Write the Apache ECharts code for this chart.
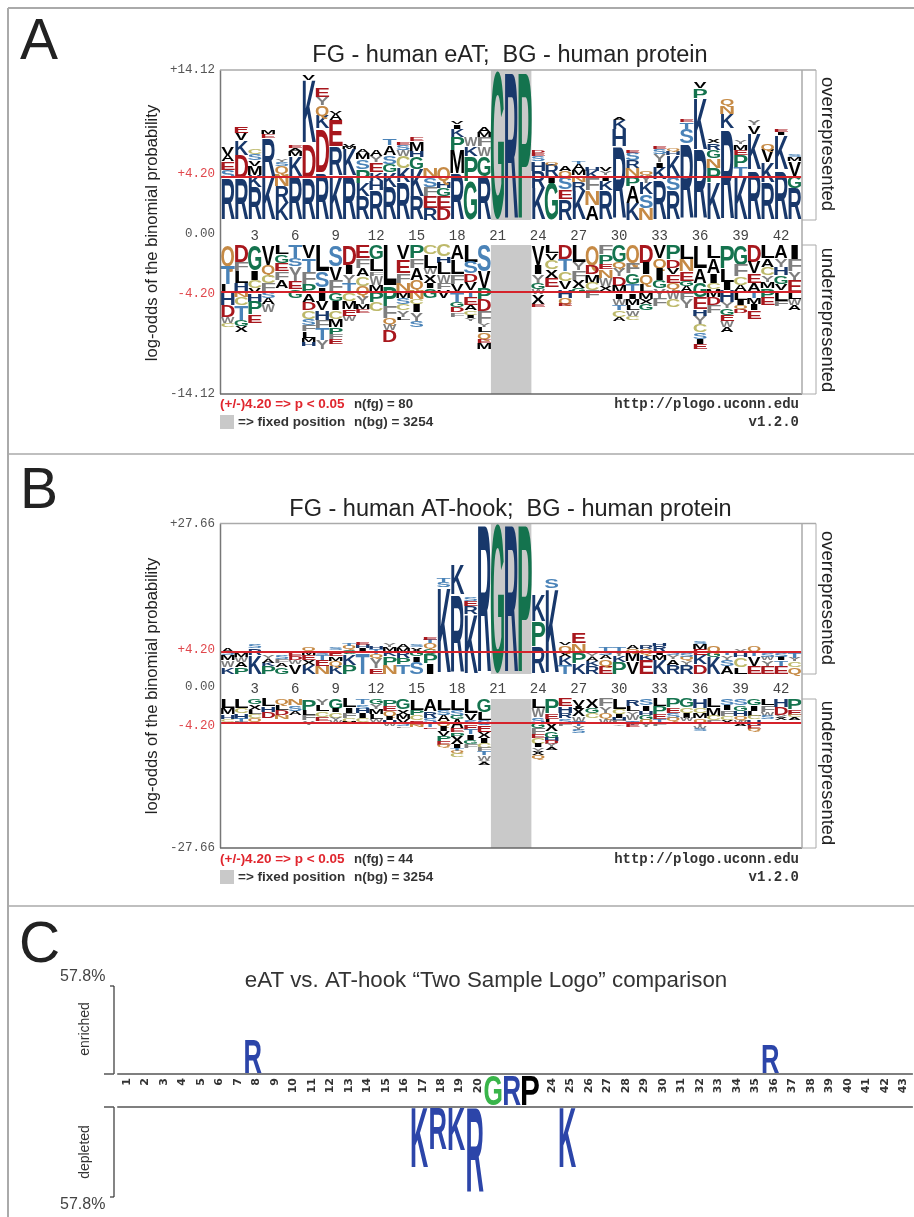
<!DOCTYPE html>
<html><head><meta charset="utf-8">
<style>html,body{margin:0;padding:0;background:#fff}#c{width:914px;height:1217px;filter:blur(0.45px)}</style>
<script src="https://cdn.jsdelivr.net/npm/echarts@6/dist/echarts.min.js"></script>
</head><body><div id="c"></div>
<script>
// ---- data: letters stacked outward from the axis, with height in log-odds (A, B) or % (C)
const aOver = ["R3.9 S.8 E.8 A.6 V.7","R3.9 D2.2 K1.4 V.7 E.6","R3.1 K1.1 M.9 V.5 S.6 C.5","K4.1 R3.6 E.4 M.4","K1.6 R1.6 N1.1 Q.8 S.4 Y.3","R4.1 K1.9 M.5 A.3 E.3","R3.9 D3.3 K6 V.5","R4.4 D4.2 K1.2 Q1 Y.8 E.9","K4.2 R2.7 E2.5 A.6 V.3","R4.2 K2.5 M.2 V.3","R2.2 K1.3 P1.3 S.9 M.6 A.4","R2.8 H.9 K.8 E.9 Y.6 A.6","R3.1 K1.4 G.8 S.8 A.9 T.6","R3.5 K1.4 C1.1 W.6 S.5 E.2","R2.2 K2.6 G1.1 H.6 M.9 E.4","R1.1 E1.1 F.9 S.9 N.9","D1.1 E1.1 G.8 H.6 Q1.4","R4.4 M2.2 P1.2 K.8 I.4 V.3","G3.6 P2.4 K.9 W.9","R4.1 G1.9 W.9 F.9 M.5 A.5","G14.12","R14.12","P14.12","K3 R1.6 H.9 S.5 E.3 D.2","G3.5 I.6 R1.1 Q.2","R2 E.9 S1.1 Q.6 A.5","K2.7 R.9 N.6 M.5 A.6 T.2","A1.4 N1.4 F1.1 K.7 H.4","R2.8 K.9 I.5 Y.4 V.4","R6.9 H1.6 K.9 A.2","K1.6 A1.6 P.9 N.8 R.7 S.7 E.3","N1.1 S1.3 K1.1 Y.7 Q.4","R3.8 K1.1 I.5 Y.8 S.5 E.2","R2.8 S1.3 K2 H.4 Q.2","R7.2 S1.4 T.6 E.2","R6.6 K4.9 P.9 V.6","K3.5 P1.4 N.9 G.8 R.6 X.4","R8.6 K1.4 N.8 Q.6","K4.1 T.9 P1.1 E.5 M.5 Y.4","R4.7 K3.4 V.8 Y.5","R3.5 K1.9 V1.2 Q.6","R4.7 K3.3 I.3 E.3","R3 G1.1 V1.4 M.4 S.2"];
const aUnder = ["Q2 T1.7 L.9 H1.1 D1.1 W.6 C.4","D1.6 F.9 L1.1 H.8 N.5 C.8 T1.4 G.6 X.6","G2.4 I.9 C.8 V.5 H.8 P1.2 E.8","V1.9 Q.9 C.8 F.8 S.6 A.6 W.8","L.9 G.8 E.8 F.8 A.8","T1.3 S.7 Y1.4 E.8 G.8","V1.3 T1.3 F1.1 P.9 A.8 D.8 C.8 S.6 F.6 L.6 M.4 H.4","L2.5 S1.5 I1.3 V.9 H.9 F.8 T1.1 Y.9","S2 V1.4 F1.1 G.8 I.9 C.8 M.8 P.6 F.5 E.5","D1.9 I.9 Y.8 T.9 C.8 M.8 E.6 W.5","E1.3 F.9 A.8 C.9 Q.9 Y.8 M.5 E.4","G1.4 L1.1 F.4 W.9 M.6 P1 C.9","L3.9 P1.9 F1.1 Q.6 W.6 D1.1","V1.4 E1.3 F.9 N.8 M.6 S.6 C.6 Y.6 L.3","P1.3 F.9 A1.1 Q.9 N.9 C.5 I.8 Y.8 S.6","C.9 L1.3 W.6 X.8 I.5 G.9","C1.1 H.6 L1.1 W.8 F.6 V.8","A1.4 L1.4 F.9 V.8 T.9 G.5 D.5 F.4","L1.6 S1.1 D.8 V.8 T.6 E.8 A.5 C.4 I.3 Y.3","S2.5 V1.6 P1.1 D1.1 F1.1 Y.4 L.5 Q.6 E.4 M.6","","","","V1.9 I.9 Y.8 G.6 W.5 X.9 E.3","L.8 V.6 C.9 X.8 E.9","D1.4 T1.1 C.9 V.8 H.8 Q.6 E.2","L1.6 Y.8 F.9 X.8 G.5","Q1.9 D.9 M.8 C.7 F.7","F.9 P.9 E.5 N.8 W.8 X.5","G1.6 Q.6 Y.8 D.9 M.7 I.5 W.6 T.5 C.6 A.4","Q1.7 F1 G1 T.9 I.5 M.6 L.5 W.5 C.4","D1.7 I1.1 Q.9 L.8 M.6 X.5 G.6","V1.3 Q.9 I1.1 G.8 Y.9 F.8","P1.4 D.8 V.6 E.8 Q.6 W.9 C.8","L1.4 N1.1 E.9 G.5 A.6 F.6 Y.9","L2.2 A1.4 G1.4 E1.1 H.6 Y.8 C.8 S.6 I.5 E.5","L1.3 A1.4 I.9 C.6 M.7 D.8 F.8","P2.2 L1.3 I.8 H1.1 Y.6 G.6 E.6 W.6 A.5","G1.9 F1.1 C.8 A.6 L.8 I.5 Q.4 D.4","D1.6 V1.1 E.9 A.8 T.6 M.6 I.6 E.8","L1.3 A.8 C.8 Y.6 M.6 P.9 E.7","A1.3 Y.8 H.8 G.8 V.6 L1 F.5","I1.4 F1.1 Y.9 E1.1 L.6 W.6 A.5"];
const bOver = ["K1.3 W1.3 M.9 S.6 A.7","P1.3 A.9 W1 M.6","K3.4 R1.3 S.6","P1.4 K.7 A.6 Y.6","G1.2 A.8 F.8 S.7","V1.8 W.8 D.7 E.6 Q.3","K1.7 X.9 E.9 M.7 Q.6","N1.4 E1.1 T.9 S.5 Q.3","K1.5 Q.9 M.8 E.9 I.3 S.5","P1.7 K2 G.8 Q.6 T.5","T4 I.8 H.6 E.4","E1 Y2 Q.7 T.9 H.4","N1.7 P1.5 K1 M.7 Y.6","T1.8 P1.1 R1.1 M.8 A.6","S2.2 I1 G.9 X.8 S.5","I2 P1.7 G1 Q.9 T.6 E.4","K16 S.9 T.6","R14.5 K5.5","K11 R1.5 E.9 S.6","R27.66","G27.66","R27.66","P27.66","R5 P4.6 K4.9","K15.8 S1.8","T1.6 K1.5 X.9 Q1.3 V.4","K1.9 P1.9 N1.8 E1.9","R1.4 K1 A.8 Y.7","E1.5 Q1.3 A.7 S.7 T.6","P2.1 K1.2 Y1 T.6","V2.3 M1.6 Q.6 A.7","E2.6 K1 Q.9 R.6 Y.3","K2.6 M.9 I.6 R1.1 H.5","R1.7 A1 Y.7 S.6","R1.7 Y.8 Q.7 S.6","D1.8 K1.6 E1.1 M1 S.5","K3.1 G1 Q1.1","A1.5 S1.1 Y.8 T.7","L1.3 C1.8 H.7 Y.7","E1.5 V1.7 T1 Q1","E1.5 Y1 W.7 S.7","E1.5 T1 I.7 S.7","Q1.3 C1 Y.7 T.9"];
const bUnder = ["L1.7 M1.2 H.8 C.5 W.3","L1.7 C1 H1 T.6 F.4","G1 X1 L.8 C.8 Q.6","L1.4 H1 D1.2","Q1 L1 D1 N.7","N1.2 S1 A.8","P2 L1 F1 Y.8","Y1.2 L1.1 C1 E.8","G1.9 I.6 C1 Y.6 W.4","L1.6 I1 F.9 C.7 M.5","T1 S.8 H.9 I.9 C.7","G.9 Y1 M.9 L1 W.5","P1.3 E.9 Q.9 I.8 H.7 W.4","G1.9 X1 M.9 V.7 S.6 F.3","L2 P1 C1 E.8 N.5","A2.3 R1.2 S.9 T.9 E.3","L2 S1 A1.1 Q.9 I.9 V1 P.9 E.7 Q.5","L2 S1.2 G.6 A1.6 E.8 P.8 X1.4 I.7 T.5 Q.5 C.6","L2.6 V1.3 S.8 E1 T.9 I1 G.8 F.7","G2.4 L1.5 S1 E1.2 X1.2 I.9 C.9 F.6 T.8 W.8 Y.5 A.4","","","","L1.8 W1.6 S1 G1 F1.2 E.7 C1.1 I.6 Y.8 X.6 Q.7","P2.7 E1 L.8 X1.5 G1.2 H.6 D.6 Y.6 A.4","E1.4 H1.2 R1 S.8 F.7","V1.3 I.5 X1.4 W1 T.9 Y.6 S.6","X1.7 G1 C.9","F1.4 Y1.2 Q1 W1","L1.9 C.9 I.7 H.6 F.6 Y.3","R1.3 L1 Y.8 W.9 T.8 E.4","S1.2 I1 H.8 G.9 Q.6 Y.8","L1.4 P1.4 E.9 T.8 F.6","P1.6 E1 S.9 Q.6","G1.6 C1 I.9 W.6","H1.7 C.9 M1 Q.8 Y.6 W.5 S.5","L1.6 M1.5 C.9 F.6","S1.2 I.9 F1 C.8 X.8","S1.2 G1 H1 Q.8 W.6 A.5","G1.2 I1 L1 C.6 H1 E.8 Q.4","L1.2 F1.2 W.7 S.7","H1.5 D1.5 Y.5 X.5","P1.9 E1 C.5 A.5"];
const cEnriched = [[8,"R",23],[36,"R",19.5]];
const cDepleted = [[17,"K",39.4],[18,"R",27.6],[19,"K",28],[20,"R",55.8],[25,"K",39.4]];
const cFixed = [[21,"G",1],[22,"R",1],[23,"P",1]];
const fixedPositions = [20.5,23.5];
const logoTicks = [3,6,9,12,15,18,21,24,27,30,33,36,39,42];
const cTicks = [1,2,3,4,5,6,7,8,9,10,11,12,13,14,15,16,17,18,19,20,24,25,26,27,28,29,30,31,32,33,34,35,36,37,38,39,40,41,42,43];
const aRange = 14.12, bRange = 27.66, cRange = 57.8;
// threshold rules as they sit in the picture
const aLineUp = 4.05, aLineDown = -4.43, bLineUp = 4.04, bLineDown = -4.4;

// ---- colours and letter shapes
const navy='#18386b', red='#a8171d', green='#14734e', steel='#4a83b8', tan='#c68a45', khaki='#bdb96a', black='#000', grey='#7f7f7f';
const colour={R:navy,K:navy,H:navy,D:red,E:red,G:green,P:green,S:steel,T:steel,N:tan,Q:tan,C:khaki,A:black,V:black,L:black,I:black,M:black,X:black,F:grey,W:grey,Y:grey};
const ink={A:71,B:62,C:65,D:63,E:56,F:51,G:68,H:58,I:30,K:66,L:54,M:69,N:58,P:57,Q:72,R:65,S:60,T:57,V:69,W:93,X:67,Y:67};
const alphabet='ACDEFGHIKLMNPQRSTVWXY';
const FONT='"Liberation Sans",Arial,sans-serif';

function rows(list,dir){
  const out=[];
  list.forEach((s,i)=>{
    let base=0;
    s.split(' ').filter(Boolean).forEach(t=>{
      const h=parseFloat(t.slice(1));
      out.push([i+1,base*dir,(base+h)*dir,alphabet.indexOf(t[0])]);
      base+=h;
    });
  });
  return out;
}
function rowsC(list,dir){ return list.map(d=>[d[0],0,d[2]*dir,alphabet.indexOf(d[1])]); }
function letterRender(widthFactor,dx,fill){
  return function(params,api){
    const p=api.value(0), c=alphabet[api.value(3)];
    const a=api.coord([p,api.value(1)]), b=api.coord([p,api.value(2)]);
    const w=api.size([1,0],[p,api.value(1)])[0]*widthFactor;
    const h=Math.abs(a[1]-b[1]);
    return {type:'text',x:a[0]+dx,y:(a[1]+b[1])/2+h*0.095,scaleX:w/ink[c],scaleY:h/72,
      style:{text:c,font:'bold 100px '+FONT,fill:fill?fill[c]:colour[c],align:'center',verticalAlign:'middle'},silent:true};
  };
}
function greyRender(params,api){
  const a=api.coord([api.value(0),api.value(2)]), b=api.coord([api.value(1),api.value(3)]);
  return {type:'rect',shape:{x:a[0],y:a[1],width:b[0]-a[0],height:b[1]-a[1]},style:{fill:'#c9c9c9'},silent:true};
}
// ---- layout
const X0=221,W=580.3;
const grids=[],xAxes=[],yAxes=[],series=[];
function addGrid(top,height,left,width,x,y){
  const i=grids.length;
  grids.push({left,width,top,height});
  xAxes.push(Object.assign({type:'value',gridIndex:i,min:.5,max:43.5,splitLine:{show:false},axisTick:{show:false},axisLine:{show:false},axisLabel:{show:false}},x||{}));
  yAxes.push(Object.assign({type:'value',gridIndex:i,splitLine:{show:false},axisTick:{show:false},axisLine:{show:false},axisLabel:{show:false}},y||{}));
  return i;
}
const monoLabel={show:true,fontFamily:'"Liberation Mono",monospace',fontSize:12.5,color:'#555',margin:6};
function logoPart(top,height,range,sign,list,line,lineText,labelDy,tickMargin){
  const max=sign>0?range:0,min=sign>0?0:-range;
  const txt=(sign>0?'+':'-')+range.toFixed(2);
  const i=addGrid(top,height,X0,W,
    sign>0?{axisLabel:{show:true,customValues:logoTicks,fontFamily:'"Liberation Mono",monospace',fontSize:14,color:'#444',margin:tickMargin,hideOverlap:false}}:{},
    {min,max,axisLabel:Object.assign({},monoLabel,{customValues:[sign>0?range:-range],formatter:()=>txt})});
  series.push({type:'custom',xAxisIndex:i,yAxisIndex:i,z:1,silent:true,renderItem:greyRender,data:[[fixedPositions[0],fixedPositions[1],sign>0?range:0,sign>0?0:-range]],encode:{x:[0,1],y:[2,3]}});
  series.push({type:'custom',xAxisIndex:i,yAxisIndex:i,z:2,silent:true,renderItem:letterRender(.98,0),data:rows(list,sign),encode:{x:0,y:[1,2]},
    markLine:{silent:true,symbol:'none',animation:false,z:5,lineStyle:{color:'#d5232b',width:2,type:'solid'},
      label:{show:true,position:'start',distance:6,offset:[0,labelDy],formatter:lineText,color:'#e0474c',fontFamily:'"Liberation Mono",monospace',fontSize:12.5},
      data:[{yAxis:line}]}});
}
logoPart(70,150,aRange,1,aOver,aLineUp,'+4.20',-3,9);
logoPart(245,149,aRange,-1,aUnder,aLineDown,'-4.20',2,9);
logoPart(523.5,150.5,bRange,1,bOver,bLineUp,'+4.20',-2,8);
logoPart(699,149,bRange,-1,bUnder,bLineDown,'-4.20',3,8);
// panel C
const CL=117.76,CW=794.64;
let ci=addGrid(986,88,CL,CW,{axisLine:{show:true,lineStyle:{color:'#555',width:1.5}},axisLabel:{show:true,customValues:cTicks,rotate:90,margin:4,fontFamily:'"DejaVu Sans",sans-serif',fontWeight:'bold',fontSize:11,color:'#333',hideOverlap:false}},{min:0,max:cRange});
series.push({type:'custom',xAxisIndex:ci,yAxisIndex:ci,z:2,silent:true,renderItem:letterRender(.9,-3.5,{R:'#2c45a9',K:'#2c45a9'}),data:rowsC(cEnriched,1),encode:{x:0,y:[1,2]}});
ci=addGrid(1107,90,CL,CW,{position:'top',axisLine:{show:true,lineStyle:{color:'#555',width:1.5}}},{min:-cRange,max:0});
series.push({type:'custom',xAxisIndex:ci,yAxisIndex:ci,z:2,silent:true,renderItem:letterRender(.9,-3.5,{R:'#2c45a9',K:'#2c45a9'}),data:rowsC(cDepleted,-1),encode:{x:0,y:[1,2]}});
ci=addGrid(1075,31,CL,CW,{},{min:0,max:1});
series.push({type:'custom',xAxisIndex:ci,yAxisIndex:ci,z:3,silent:true,renderItem:letterRender(.92,-3.5,{G:'#39b54a',R:'#2c45a9',P:'#000'}),data:rowsC(cFixed,1),encode:{x:0,y:[1,2]}});

// ---- frame, titles, notes
const g=[];
function ln(x1,y1,x2,y2,c,w){g.push({type:'line',silent:true,z:10,shape:{x1,y1,x2,y2},style:{stroke:c,lineWidth:w||1}});}
function tx(text,x,y,font,fill,align,rot){g.push({type:'text',silent:true,z:10,x,y,rotation:rot||0,style:{text,x:0,y:0,font,fill,textAlign:align||'left',textVerticalAlign:'middle'}});}
ln(8,8,914,8,'#aaa',2);ln(8,8,8,1217,'#aaa',2);ln(8,454,914,454,'#aaa',1.5);ln(8,906,914,906,'#aaa',1.5);
function panel(letter,ly,title,ty,t,b1,b2,b,zeroY,nfg,axisCy,overCy,underCy,l1,l2){
  tx(letter,20,ly,'57px '+FONT,'#222');
  tx(title,ty[0],ty[1],'23.5px '+FONT,'#222','center');
  ln(220.5,t,220.5,b,'#777',1.5);ln(220,t,816,t,'#aaa',1.5);ln(220,b,802,b,'#666',1.5);
  ln(802,t,802,b,'#aaa',1.5);
  ln(816,t,816,b1,'#aaa',1);ln(802,b1,816,b1,'#aaa',1);ln(802,b2,816,b2,'#aaa',1);ln(816,b2,816,b,'#aaa',1);ln(802,b,816,b,'#aaa',1);
  tx('0.00',215,zeroY,'12.5px "Liberation Mono",monospace','#555','right');
  tx('log-odds of the binomial probability',152,axisCy,'16.6px '+FONT,'#222','center',Math.PI/2);
  tx('overrepresented',827,overCy,'18.4px '+FONT,'#222','center',-Math.PI/2);
  tx('underrepresented',827,underCy,'18.3px '+FONT,'#222','center',-Math.PI/2);
  tx('(+/-)4.20 => p < 0.05',220,l1,'bold 13.5px '+FONT,'#e0262e');
  tx('n(fg) = '+nfg,354,l1,'bold 13.2px '+FONT,'#333');
  g.push({type:'rect',silent:true,z:10,shape:{x:220,y:l2-7,width:14,height:14},style:{fill:'#c9c9c9'}});
  tx('=> fixed position',238,l2,'bold 13.5px '+FONT,'#333');
  tx('n(bg) = 3254',354,l2,'bold 13.5px '+FONT,'#333');
  tx('http://plogo.uconn.edu',799,l1,'bold 14px "Liberation Mono",monospace','#333','right');
  tx('v1.2.0',799,l2,'bold 14px "Liberation Mono",monospace','#333','right');
}
panel('A',43,'FG - human eAT;  BG - human protein',[510,56],70,220,245,394,234,80,233,144,320,404,422);
panel('B',492,'FG - human AT-hook;  BG - human protein',[510.5,510],523.5,674,699,848,687,44,686,598,773,859,877);
tx('C',19,946,'57px '+FONT,'#222');
tx('eAT vs. AT-hook \u201cTwo Sample Logo\u201d comparison',486,981,'22.3px '+FONT,'#333','center');
tx('57.8%',60,977,'16px '+FONT,'#444');tx('57.8%',60,1205,'16px '+FONT,'#444');
tx('enriched',85,1029,'14px '+FONT,'#333','center',Math.PI/2);
tx('depleted',85,1152,'14px '+FONT,'#333','center',Math.PI/2);
ln(114,986,114,1074,'#333',1.2);ln(110,986,114,986,'#333',1.2);ln(104,1074,114,1074,'#555',1.5);
ln(114,1107,114,1197,'#333',1.2);ln(104,1107,114,1107,'#555',1.5);ln(110,1197,114,1197,'#333',1.2);

const chart=echarts.init(document.getElementById('c'),null,{renderer:'canvas'});
chart.setOption({animation:false,backgroundColor:'#fff',grid:grids,xAxis:xAxes,yAxis:yAxes,series,graphic:{elements:g}});
</script></body></html>
